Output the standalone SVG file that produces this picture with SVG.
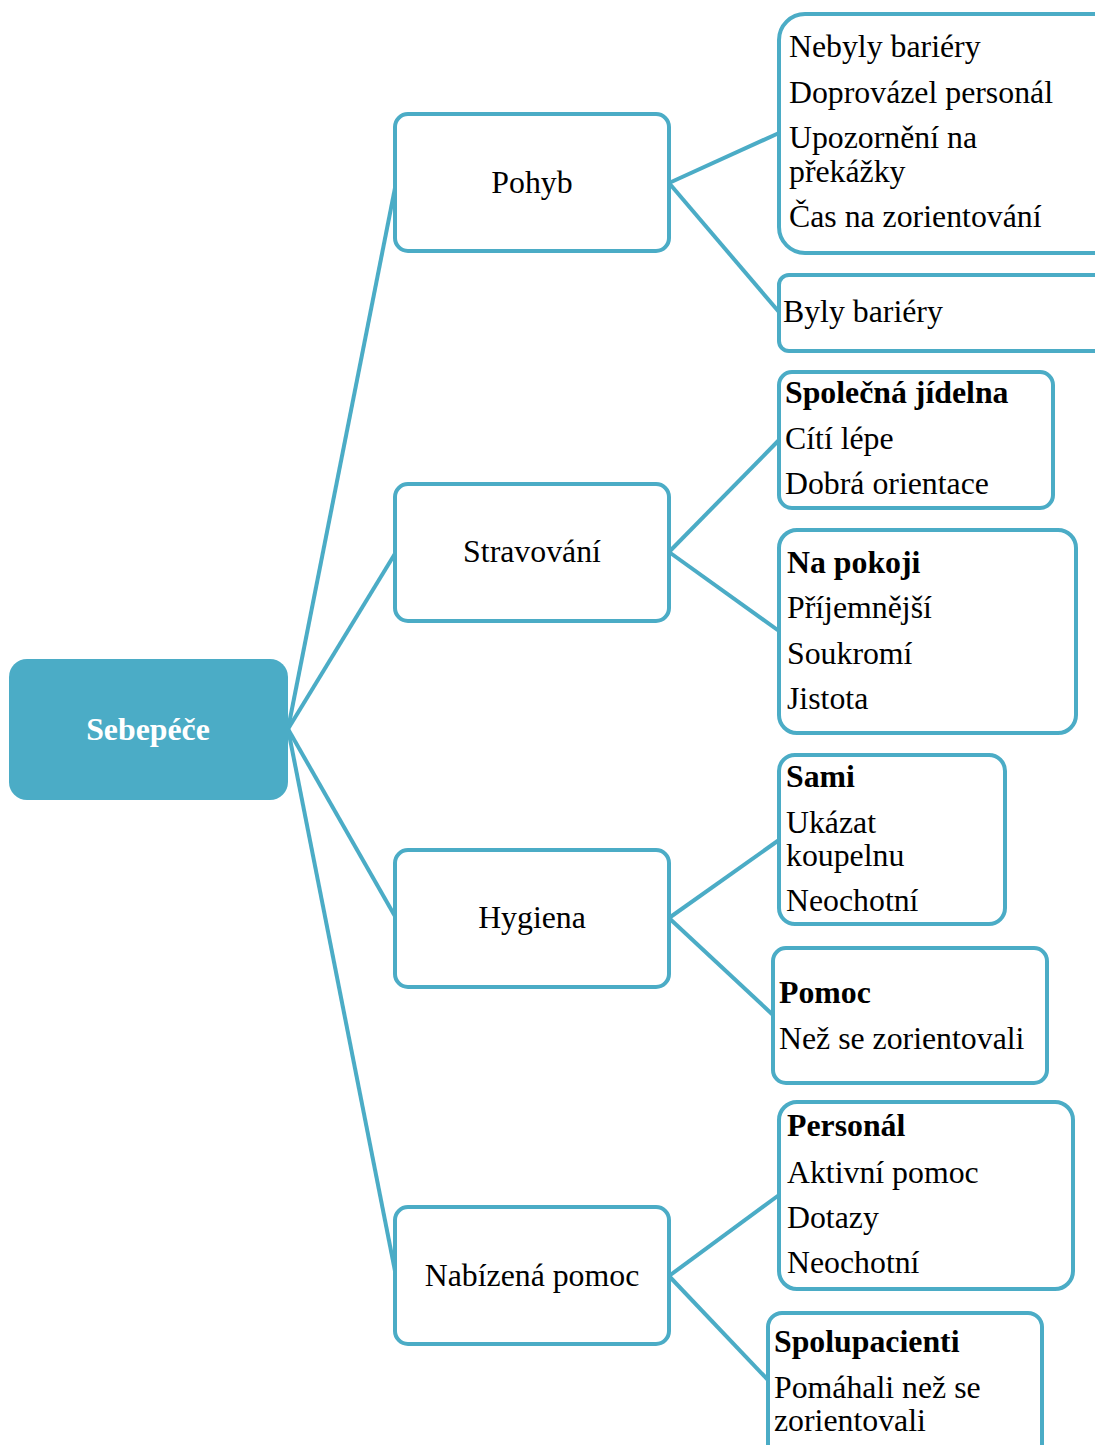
<svg xmlns="http://www.w3.org/2000/svg" width="1095" height="1445" viewBox="0 0 1095 1445">
<style>
.box{fill:#ffffff;stroke:#4BACC6;stroke-width:4}
.t{font-family:"Liberation Serif","Times New Roman",serif;font-size:31.8px;fill:#000}
.b{font-weight:bold}
.c{text-anchor:middle}
.con line{stroke:#4BACC6;stroke-width:4}
</style>
<rect width="1095" height="1445" fill="#ffffff"/>
<g id="connectors" class="con">
<line x1="288" y1="729" x2="396" y2="183"/>
<line x1="288" y1="729" x2="396" y2="552"/>
<line x1="288" y1="729" x2="396" y2="918"/>
<line x1="288" y1="729" x2="396" y2="1276"/>
<line x1="669" y1="183" x2="779" y2="133"/>
<line x1="669" y1="183" x2="779" y2="312"/>
<line x1="669" y1="552" x2="779" y2="440"/>
<line x1="669" y1="552" x2="779" y2="631"/>
<line x1="669" y1="918" x2="779" y2="840"/>
<line x1="669" y1="918" x2="773" y2="1015"/>
<line x1="669" y1="1276" x2="779" y2="1195"/>
<line x1="669" y1="1276" x2="768" y2="1380"/>
</g>
<g id="root">
<rect x="9" y="659" width="279" height="141" rx="18" fill="#4BACC6"/>
<text class="t b c" x="148" y="740" style="fill:#ffffff">Sebepéče</text>
</g>
<g id="pohyb">
<rect class="box" x="395" y="114" width="274" height="137" rx="13"/>
<text class="t c" x="532" y="193">Pohyb</text>
</g>
<g id="stravovani">
<rect class="box" x="395" y="484" width="274" height="137" rx="13"/>
<text class="t c" x="532" y="562">Stravování</text>
</g>
<g id="hygiena">
<rect class="box" x="395" y="850" width="274" height="137" rx="13"/>
<text class="t c" x="532" y="928">Hygiena</text>
</g>
<g id="nabizena">
<rect class="box" x="395" y="1207" width="274" height="137" rx="13"/>
<text class="t c" x="532" y="1286">Nabízená pomoc</text>
</g>
<g id="pohyb-nebyly">
<rect class="box" x="779" y="14" width="340" height="239" rx="26"/>
<text class="t" x="789" y="57">Nebyly bariéry</text>
<text class="t" x="789" y="103">Doprovázel personál</text>
<text class="t" x="789" y="148">Upozornění na</text>
<text class="t" x="789" y="182">překážky</text>
<text class="t" x="789" y="227">Čas na zorientování</text>
</g>
<g id="pohyb-byly">
<rect class="box" x="779" y="275" width="340" height="76" rx="10"/>
<text class="t" x="783" y="322">Byly bariéry</text>
</g>
<g id="spolecna">
<rect class="box" x="779" y="372" width="274" height="136" rx="13"/>
<text class="t b" x="785" y="403">Společná jídelna</text>
<text class="t" x="785" y="449">Cítí lépe</text>
<text class="t" x="785" y="494">Dobrá orientace</text>
</g>
<g id="napokoji">
<rect class="box" x="779" y="530" width="297" height="203" rx="18"/>
<text class="t b" x="787" y="573">Na pokoji</text>
<text class="t" x="787" y="618">Příjemnější</text>
<text class="t" x="787" y="664">Soukromí</text>
<text class="t" x="787" y="709">Jistota</text>
</g>
<g id="sami">
<rect class="box" x="779" y="755" width="226" height="169" rx="16"/>
<text class="t b" x="786" y="787">Sami</text>
<text class="t" x="786" y="833">Ukázat</text>
<text class="t" x="786" y="866">koupelnu</text>
<text class="t" x="786" y="911">Neochotní</text>
</g>
<g id="pomoc">
<rect class="box" x="773" y="948" width="274" height="135" rx="13"/>
<text class="t b" x="779" y="1003">Pomoc</text>
<text class="t" x="779" y="1049">Než se zorientovali</text>
</g>
<g id="personal">
<rect class="box" x="779" y="1102" width="294" height="187" rx="18"/>
<text class="t b" x="787" y="1136">Personál</text>
<text class="t" x="787" y="1183">Aktivní pomoc</text>
<text class="t" x="787" y="1228">Dotazy</text>
<text class="t" x="787" y="1273">Neochotní</text>
</g>
<g id="spolupacienti">
<rect class="box" x="768" y="1313" width="274" height="160" rx="14"/>
<text class="t b" x="774" y="1352">Spolupacienti</text>
<text class="t" x="774" y="1398">Pomáhali než se</text>
<text class="t" x="774" y="1431">zorientovali</text>
</g>
</svg>
